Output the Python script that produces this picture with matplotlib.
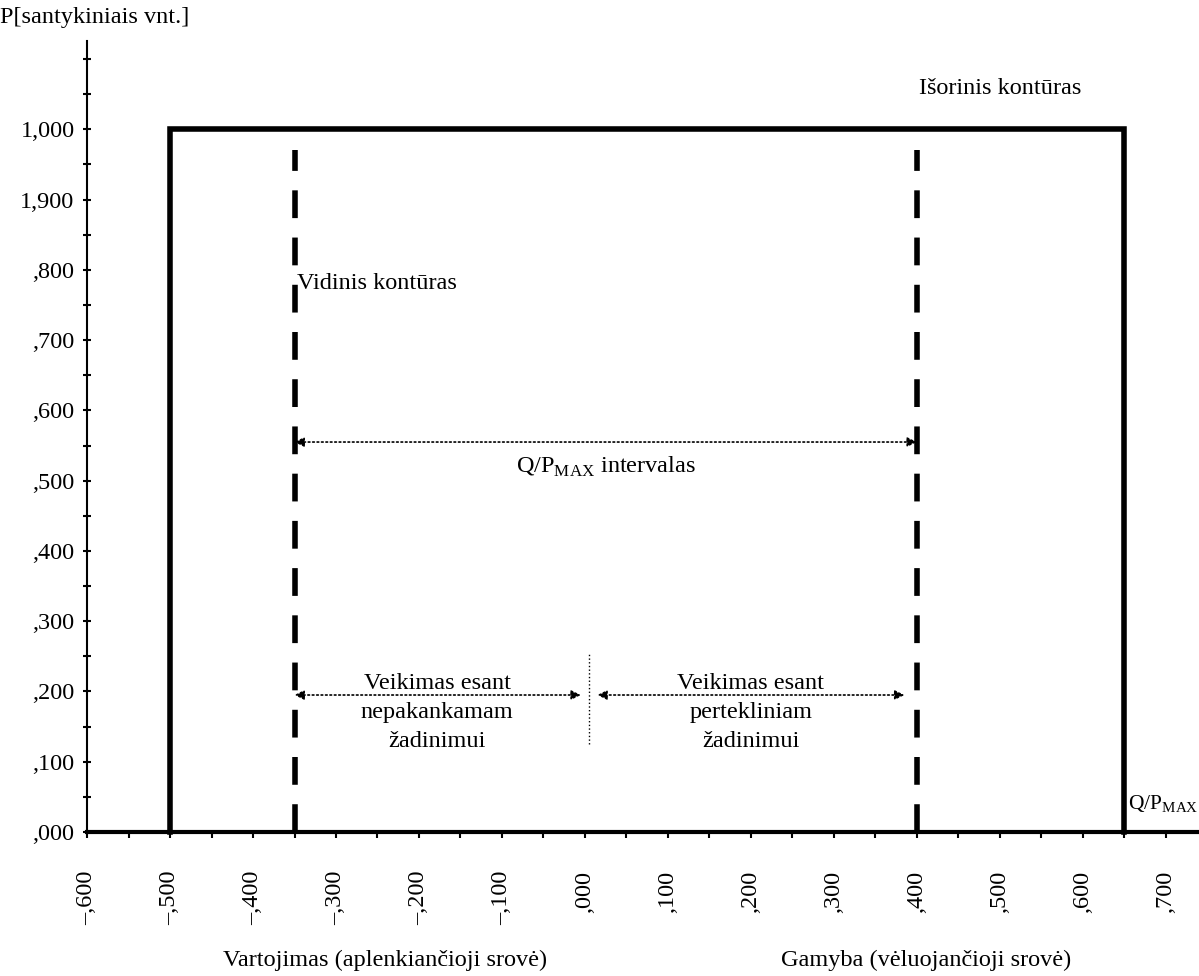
import numpy as np
import matplotlib.pyplot as plt
from matplotlib.ticker import MultipleLocator, FixedLocator, FixedFormatter

plt.rcParams['font.family'] = ['Liberation Serif', 'DejaVu Serif']

# išorinis kontūras (Q/Pmax, P)
outer_q = [-0.5, -0.5, 0.65, 0.65]
outer_p = [0.0, 1.0, 1.0, 0.0]
# vidinis kontūras
inner_q = [-0.35, 0.4]
inner_top = 0.97
# rodyklės
interval_y = 0.555
mode_y = 0.195
mid_q = 0.005

y_ticks = [0.0, 0.1, 0.2, 0.3, 0.4, 0.5, 0.6, 0.7, 0.8, 0.9, 1.0]
y_labels = [',000', ',100', ',200', ',300', ',400', ',500', ',600', ',700', ',800', '1,900', '1,000']
x_ticks = [-0.6, -0.5, -0.4, -0.3, -0.2, -0.1, 0.0, 0.1, 0.2, 0.3, 0.4, 0.5, 0.6, 0.7]
x_labels = ['–,600', '–,500', '–,400', '–,300', '–,200', '–,100', ',000',
            ',100', ',200', ',300', ',400', ',500', ',600', ',700']

fig = plt.figure(figsize=(11.99, 9.76), dpi=100)
ax = fig.add_axes([0.0726, 0.1475, 0.9274, 0.81])
ax.set_xlim(-0.6, 0.74)
ax.set_ylim(0, 1.125)

ax.plot(outer_q, outer_p, color='black', lw=4, solid_joinstyle='miter', clip_on=False)
for q in inner_q:
    ax.plot([q, q], [0, inner_top], color='black', lw=4, ls=(0, (5, 3.5)))

arrow = dict(arrowstyle='<|-|>', ls=':', lw=1.2, color='black',
             mutation_scale=14, shrinkA=0, shrinkB=0)
ax.annotate('', xy=(inner_q[0], interval_y), xytext=(inner_q[1], interval_y), arrowprops=arrow)
ax.annotate('', xy=(inner_q[0], mode_y), xytext=(mid_q - 0.01, mode_y), arrowprops=arrow)
ax.annotate('', xy=(mid_q + 0.01, mode_y), xytext=(inner_q[1] - 0.015, mode_y), arrowprops=arrow)
ax.plot([mid_q, mid_q], [0.125, 0.255], color='black', lw=1, ls=':')

fs = 17.5
ax.text(0.025, 0.537, 'Q/P$_{\\mathregular{MAX}}$ intervalas', ha='center', va='top', fontsize=fs)
ax.text(-0.178, 0.226, 'Veikimas esant\nnepakankamam\nžadinimui', ha='center', va='top',
        fontsize=fs, linespacing=1.5)
ax.text(0.2, 0.226, 'Veikimas esant\npertekliniam\nžadinimui', ha='center', va='top',
        fontsize=fs, linespacing=1.5)
ax.text(-0.347, 0.78, 'Vidinis kontūras', ha='left', va='center', fontsize=fs)
ax.text(0.5, 1.058, 'Išorinis kontūras', ha='center', va='center', fontsize=fs)
ax.text(0.655, 0.04, 'Q/P$_{\\mathregular{MAX}}$', ha='left', va='center', fontsize=15.5)
fig.text(0.0, 0.982, 'P[santykiniais vnt.]', ha='left', va='center', fontsize=fs)
fig.text(0.321, 0.016, 'Vartojimas (aplenkiančioji srovė)', ha='center', va='center', fontsize=fs)
fig.text(0.772, 0.016, 'Gamyba (vėluojančioji srovė)', ha='center', va='center', fontsize=fs)

ax.yaxis.set_major_locator(FixedLocator(y_ticks))
ax.yaxis.set_major_formatter(FixedFormatter(y_labels))
ax.yaxis.set_minor_locator(MultipleLocator(0.05))
ax.xaxis.set_major_locator(FixedLocator(x_ticks))
ax.xaxis.set_major_formatter(FixedFormatter(x_labels))
ax.xaxis.set_minor_locator(MultipleLocator(0.05))
ax.tick_params(axis='x', which='both', direction='out', length=4, width=1.5, labelsize=fs,
               labelrotation=90, pad=24)
ax.tick_params(axis='y', which='both', direction='inout', length=6, width=1.5, labelsize=fs, pad=6)
for lab in ax.get_xticklabels():
    lab.set_va('top')

ax.spines['top'].set_visible(False)
ax.spines['right'].set_visible(False)
ax.spines['left'].set_linewidth(1.5)
ax.spines['bottom'].set_linewidth(3)

fig.savefig('out.png', dpi=100)
